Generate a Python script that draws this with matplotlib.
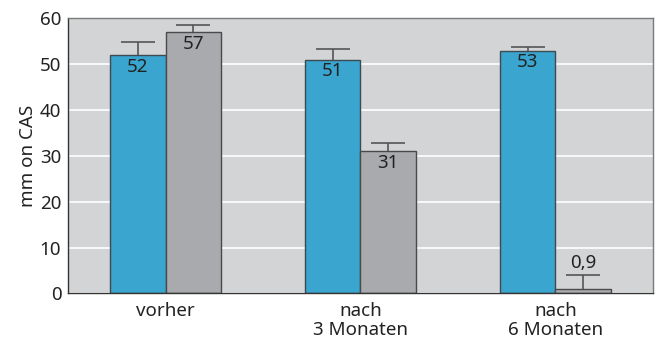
import matplotlib.pyplot as plt
import numpy as np

plt.rcParams['font.family'] = ['Noto Sans', 'DejaVu Sans']

# mean values per time point, with upward error
groups = ['vorher', 'nach\n3 Monaten', 'nach\n6 Monaten']
blue_vals = [52, 51, 53]
grey_vals = [57, 31, 0.9]
blue_err = [2.8, 2.3, 0.8]
grey_err = [1.5, 1.9, 3.1]
blue_labels = ['52', '51', '53']
grey_labels = ['57', '31', '0,9']

x = np.arange(len(groups))
w = 0.285
fs = 13.5
txt_col = '#222222'

fig, ax = plt.subplots(figsize=(6.56, 3.48), dpi=100)
fig.subplots_adjust(left=0.104, right=0.995, top=0.947, bottom=0.157)

ax.set_facecolor('#d3d4d6')
ax.yaxis.grid(True, color='white', linewidth=1.2)
ax.set_axisbelow(True)

err_kw = dict(ecolor='#555555', elinewidth=1.2, capsize=12, capthick=1.2)
b1 = ax.bar(x - w / 2, blue_vals, w, color='#3aa6cf', edgecolor='#3d4a50',
            linewidth=1.0, yerr=[np.zeros(3), blue_err], error_kw=err_kw)
b2 = ax.bar(x + w / 2, grey_vals, w, color='#a9aaad', edgecolor='#4a4a4a',
            linewidth=1.0, yerr=[np.zeros(3), grey_err], error_kw=err_kw)

# only the upper cap is wanted
for bars in (b1, b2):
    caps = bars.errorbar.lines[1]
    caps[0].set_visible(False)

for xi, v, lab in zip(x - w / 2, blue_vals, blue_labels):
    ax.text(xi, v - 0.6, lab, ha='center', va='top', fontsize=fs, color=txt_col)
for xi, v, e, lab in zip(x + w / 2, grey_vals, grey_err, grey_labels):
    if v < 5:
        ax.text(xi, v + e + 0.6, lab, ha='center', va='bottom', fontsize=fs, color=txt_col)
    else:
        ax.text(xi, v - 0.6, lab, ha='center', va='top', fontsize=fs, color=txt_col)

ax.set_xlim(-0.5, 2.5)
ax.set_ylim(0, 60)
ax.set_yticks(range(0, 61, 10))
ax.set_xticks(x)
ax.set_xticklabels(groups, fontsize=fs, color=txt_col, linespacing=1.1)
ax.tick_params(axis='y', labelsize=fs, labelcolor=txt_col, length=0, pad=5)
ax.tick_params(axis='x', length=0, pad=6)
ax.set_ylabel('mm on CAS', fontsize=fs, color=txt_col, labelpad=2)

for side in ['top', 'right']:
    ax.spines[side].set_color('#7a7a7a')
for side in ['left', 'bottom']:
    ax.spines[side].set_color('#333333')
for s in ax.spines.values():
    s.set_linewidth(1.0)

fig.savefig('out.png', dpi=100)
